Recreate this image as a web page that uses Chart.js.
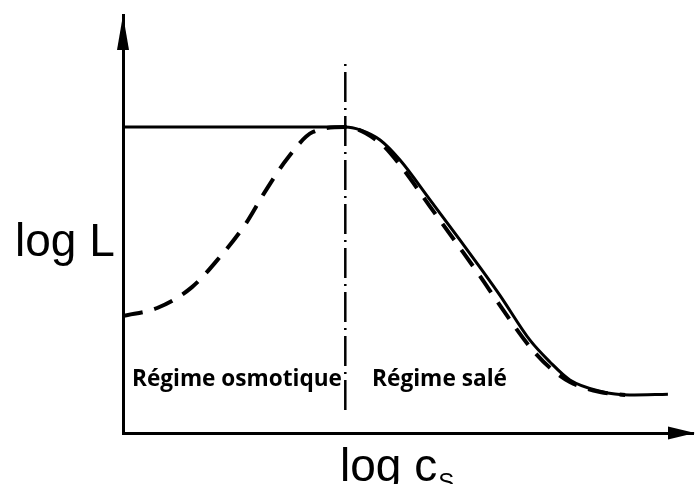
<!DOCTYPE html>
<html>
<head>
<meta charset="utf-8">
<script src="https://cdn.jsdelivr.net/npm/chart.js@4"></script>
<style>
  body { margin: 0; background: #fff; }
  #wrap { width: 695px; height: 484px; }
</style>
</head>
<body>
<div id="wrap"><canvas id="regime-chart"></canvas></div>
<script>
  // Values, in arbitrary log units (x: log cs, y: log L)
  const solidX = [0, 3.0, 3.9, 4.16, 4.51, 4.86, 5.39, 5.91, 6.26, 6.61, 7.14, 7.49, 7.84, 8.37, 8.89, 9.56];
  const solidY = [7.32, 7.32, 7.32, 7.25, 7.01, 6.53, 5.57, 4.62, 3.97, 3.30, 2.22, 1.70, 1.27, 1.00, 0.91, 0.93];

  const dashedX = [0, 0.6, 1.21, 1.7, 2.14, 2.49, 2.89, 3.33, 3.9, 4.51, 4.86, 5.39, 5.91, 6.26, 6.61, 7.14, 7.49, 7.84, 8.37, 8.81];
  const dashedY = [2.80, 2.99, 3.49, 4.21, 4.98, 5.77, 6.58, 7.20, 7.32, 6.94, 6.41, 5.41, 4.43, 3.76, 3.06, 2.06, 1.56, 1.22, 0.98, 0.91];

  // boundary between the two regimes
  const boundaryX = [3.9, 3.9];
  const boundaryY = [0.55, 8.88];

  const regimeLabels = ["Régime osmotique", "Régime salé"];
  const yAxisLabel = "log L";
  const xAxisLabel = ["log c", "S"];

  const toPoints = (xs, ys) => xs.map((x, i) => ({ x: x, y: ys[i] }));

  // Arrowheads and the text labels
  const annotations = {
    id: "annotations",
    afterDraw(chart) {
      const { ctx } = chart;
      const xs = chart.scales.x;
      const ys = chart.scales.y;
      const left = xs.getPixelForValue(0);
      const bottom = ys.getPixelForValue(0);
      const top = ys.getPixelForValue(10);
      const right = xs.getPixelForValue(10) + 2;

      ctx.save();
      ctx.fillStyle = "#000";

      // y axis arrow
      ctx.beginPath();
      ctx.moveTo(left, top);
      ctx.lineTo(left - 6, top + 35);
      ctx.lineTo(left + 6, top + 35);
      ctx.closePath();
      ctx.fill();

      // x axis arrow
      ctx.beginPath();
      ctx.moveTo(right, bottom);
      ctx.lineTo(right - 27, bottom - 6.5);
      ctx.lineTo(right - 27, bottom + 6.5);
      ctx.closePath();
      ctx.fill();

      // axis names
      ctx.textBaseline = "alphabetic";
      ctx.textAlign = "left";
      ctx.font = "46px 'Liberation Sans', Arial, sans-serif";
      ctx.fillText(yAxisLabel, 15, 256);
      ctx.fillText(xAxisLabel[0], 340, 481);
      const cw = ctx.measureText(xAxisLabel[0]).width;
      ctx.font = "24px 'Liberation Sans', Arial, sans-serif";
      ctx.fillText(xAxisLabel[1], 340 + cw + 1, 490);

      // regime labels, sized to their width in the picture
      const fitText = (text, x, y, width) => {
        ctx.font = "bold 20px 'Open Sans', sans-serif";
        const size = 20 * width / ctx.measureText(text).width;
        ctx.font = "bold " + size.toFixed(1) + "px 'Open Sans', sans-serif";
        ctx.fillText(text, x, y);
      };
      fitText(regimeLabels[0], 132, 386, 210);
      fitText(regimeLabels[1], 372, 386, 135);

      ctx.restore();
    },
  };

  const createChart = (ctx) => {
    return new Chart(ctx, {
      type: "line",
      data: {
        datasets: [
          {
            label: "solid",
            data: toPoints(solidX, solidY),
            borderColor: "#000",
            borderWidth: 3,
            pointRadius: 0,
            cubicInterpolationMode: "monotone",
          },
          {
            label: "dashed",
            data: toPoints(dashedX, dashedY),
            borderColor: "#000",
            borderWidth: 4,
            borderDash: [20, 12],
            pointRadius: 0,
            cubicInterpolationMode: "monotone",
          },
          {
            label: "boundary",
            data: toPoints(boundaryX, boundaryY),
            borderColor: "#000",
            borderWidth: 2.5,
            borderDash: [30, 6, 2, 6],
            pointRadius: 0,
          },
        ],
      },
      options: {
        responsive: true,
        maintainAspectRatio: false,
        animation: false,
        layout: { padding: { left: 123, right: 2, top: 15, bottom: 51 } },
        plugins: {
          legend: { display: false },
          tooltip: { enabled: false },
        },
        scales: {
          x: {
            type: "linear",
            min: 0,
            max: 10,
            grid: { display: false, drawTicks: false },
            ticks: { display: false },
            border: { display: true, width: 3, color: "#000" },
          },
          y: {
            type: "linear",
            min: 0,
            max: 10,
            grid: { display: false, drawTicks: false },
            ticks: { display: false },
            border: { display: true, width: 3, color: "#000" },
          },
        },
      },
      plugins: [annotations],
    });
  };

  createChart(document.getElementById("regime-chart").getContext("2d"));
</script>
</body>
</html>
